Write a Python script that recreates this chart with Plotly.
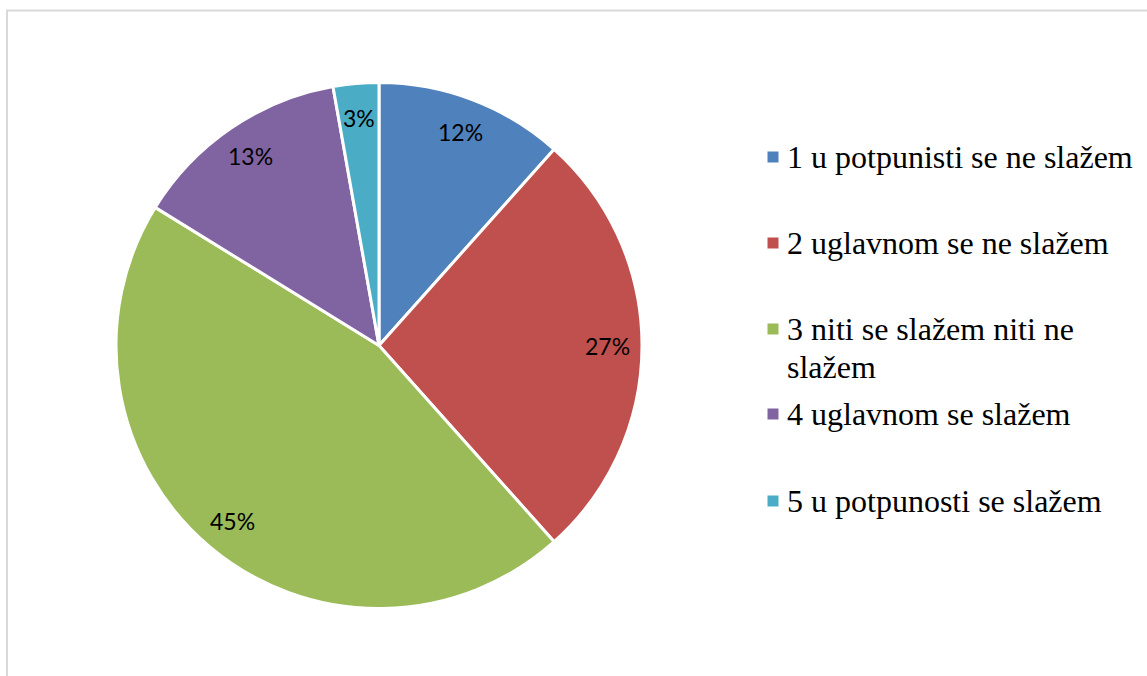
import math
import plotly.graph_objects as go

# ---- data ----
categories = [
    "1 u potpunisti se ne slažem",
    "2 uglavnom se ne slažem",
    "3 niti se slažem niti ne slažem",
    "4 uglavnom se slažem",
    "5 u potpunosti se slažem",
]
legend_lines = [
    ["1 u potpunisti se ne slažem"],
    ["2 uglavnom se ne slažem"],
    ["3 niti se slažem niti ne", "slažem"],
    ["4 uglavnom se slažem"],
    ["5 u potpunosti se slažem"],
]
values = [11.6, 26.8, 45.4, 13.4, 2.8]
colors = ["#4F81BD", "#C0504D", "#9BBB59", "#8064A2", "#4BACC6"]

# ---- layout geometry (pixels) ----
W, H = 1147, 676
CX, CY, R = 379, 345.5, 263  # pie centre/radius in px

def px(x):
    return x / W

def py(y):
    return (H - y) / H

fig = go.Figure()
fig.add_trace(go.Pie(
    labels=categories,
    values=values,
    sort=False,
    direction="clockwise",
    rotation=0,
    marker=dict(colors=colors, line=dict(color="white", width=3)),
    textinfo="none",
    hoverinfo="label+percent",
    showlegend=False,
    domain=dict(x=[px(CX - R), px(CX + R)], y=[py(CY + R), py(CY - R)]),
))

annotations = []
shapes = []

# percent labels inside the slices
total = sum(values)
cum = 0.0
for v in values:
    mid = (cum + v / 2) / total * 2 * math.pi
    cum += v
    r = 0.87 * R
    x = CX + r * math.sin(mid)
    y = CY - r * math.cos(mid)
    annotations.append(dict(
        x=px(x), y=py(y), xref="paper", yref="paper",
        text=f"{round(v / total * 100)}%", showarrow=False,
        font=dict(family="Lato, Liberation Sans, sans-serif", size=23, color="#000000"),
        xanchor="center", yanchor="middle",
    ))

# legend (manual)
item_y = [157, 243, 329, 414, 501]
line_gap = 37.5
for lines, c, yc in zip(legend_lines, colors, item_y):
    shapes.append(dict(
        type="rect", xref="paper", yref="paper",
        x0=px(767.5), x1=px(778.5), y0=py(yc + 5.5), y1=py(yc - 5.5),
        fillcolor=c, line=dict(width=0),
    ))
    for i, t in enumerate(lines):
        annotations.append(dict(
            x=px(785), y=py(yc + i * line_gap), xref="paper", yref="paper",
            text=t, showarrow=False,
            font=dict(family="Liberation Serif, Times New Roman, serif", size=32, color="#000000"),
            xanchor="left", yanchor="middle",
        ))

# chart area border (only left/top visible in crop)
shapes.append(dict(
    type="rect", xref="paper", yref="paper",
    x0=px(7), x1=px(W + 30), y0=py(10.5), y1=py(H + 30),
    line=dict(color="#D9D9D9", width=2), fillcolor="rgba(0,0,0,0)", layer="below",
))

fig.update_layout(
    width=W, height=H,
    margin=dict(l=0, r=0, t=0, b=0),
    paper_bgcolor="white",
    plot_bgcolor="white",
    annotations=annotations,
    shapes=shapes,
)

fig.write_html(
    "out.html",
    config={"displayModeBar": False},
    post_script="document.body.style.margin='0';document.body.style.overflow='hidden';",
)
